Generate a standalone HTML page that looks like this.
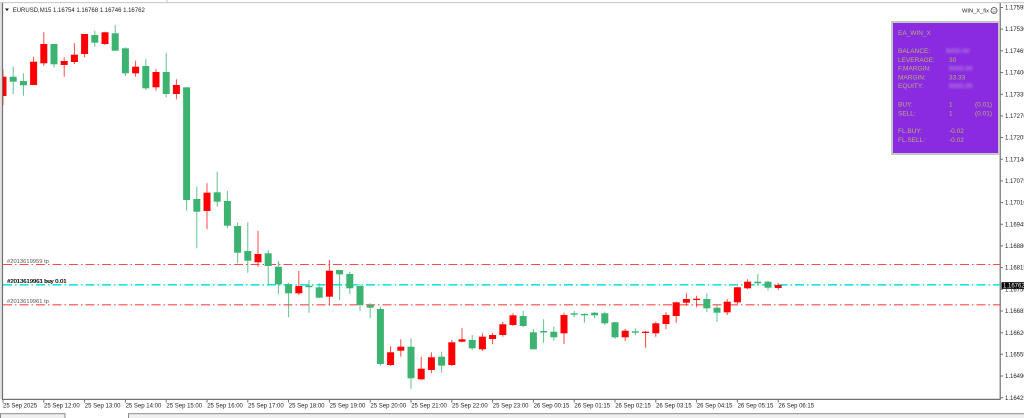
<!DOCTYPE html>
<html>
<head>
<meta charset="utf-8">
<style>
html,body{margin:0;padding:0;background:#fff;}
svg{display:block;}
text{font-family:"Liberation Sans",Arial,sans-serif;}
</style>
</head>
<body>
<svg width="1024" height="418" viewBox="0 0 1024 418" xmlns="http://www.w3.org/2000/svg">
<defs>
<clipPath id="ca"><rect x="3" y="3" width="997" height="396"/></clipPath>
<filter id="bl" x="-20%" y="-50%" width="140%" height="200%"><feGaussianBlur stdDeviation="1.1"/></filter>
</defs>
<rect x="0" y="0" width="1024" height="418" fill="#fff"/>
<!-- frame -->
<rect x="0" y="3" width="2" height="396" fill="#e2e2e2"/>
<line x1="0" y1="2.6" x2="1024" y2="2.6" stroke="#c4c4c4" stroke-width="1"/>
<line x1="167" y1="0" x2="167" y2="2.6" stroke="#c4c4c4" stroke-width="1"/>
<line x1="2.5" y1="3" x2="2.5" y2="400" stroke="#707070" stroke-width="1.2"/>
<line x1="2" y1="399.4" x2="1000.5" y2="399.4" stroke="#707070" stroke-width="1.2"/>
<line x1="1000.2" y1="3" x2="1000.2" y2="400" stroke="#707070" stroke-width="1.2"/>

<!-- title -->
<polygon points="5,8.5 9,8.5 7,11" fill="#111"/>
<text x="12.7" y="12.2" font-size="6" fill="#222">EURUSD,M15  1.16754 1.16768 1.16746 1.16762</text>

<!-- WIN_X_fix -->
<text x="962" y="12.5" font-size="5.6" fill="#222" textLength="27" lengthAdjust="spacingAndGlyphs">WIN_X_fix</text>
<circle cx="994" cy="10.5" r="3" fill="none" stroke="#444" stroke-width="0.8"/>
<circle cx="993" cy="9.8" r="0.45" fill="#444"/>
<circle cx="995" cy="9.8" r="0.45" fill="#444"/>
<path d="M992.6 11.4 Q994 12.8 995.4 11.4" fill="none" stroke="#444" stroke-width="0.6"/>

<!-- order lines -->
<g clip-path="url(#ca)">
<line x1="3" y1="264.5" x2="1000" y2="264.5" stroke="#ff4a4a" stroke-width="1.1" stroke-dasharray="9 3 1.5 3"/>
<line x1="3" y1="284.8" x2="1000" y2="284.8" stroke="#1de3e3" stroke-width="1.6" stroke-dasharray="9 3 1.5 3"/>
<line x1="3" y1="304.8" x2="1000" y2="304.8" stroke="#ff4a4a" stroke-width="1.1" stroke-dasharray="9 3 1.5 3"/>
</g>
<text x="7" y="262.8" font-size="5.8" fill="#555">#2013619959 tp</text>
<text x="7" y="283.0" font-size="5.8" fill="#111">#2013619963 buy 0.01</text>
<text x="7.4" y="283.0" font-size="5.8" fill="#111">#2013619961 buy 0.01</text>
<text x="7" y="303.0" font-size="5.8" fill="#555">#2013619961 tp</text>

<!-- candles -->
<g clip-path="url(#ca)">
<path fill="none" stroke="#3cb371" stroke-opacity="0.8" stroke-width="1" d="M13.2 66.7V94 M23.4 73.3V95.7 M54 44V67.3 M94.8 30.7V46.7 M115.2 25V50.7 M125.4 47.3V76 M145.8 59.3V90 M166.2 52.7V97.3 M186.6 87.3V210.7 M196.8 186.7V248.3 M217.2 171.7V206.7 M227.4 191V228.3 M237.6 222.7V263.3 M247.8 222.3V272.7 M268.2 250V285 M278.4 261V294.3 M288.6 282.7V317.3 M309 280V312.7 M319.2 283.3V298.3 M339.6 270V300 M349.8 271.7V294 M360 284.3V310.7 M370.2 303.3V318.3 M380.4 306.7V366 M411 338.3V389 M441.6 351.7V372.7 M472.2 335V350 M523.2 310.7V327.3 M533.4 329V349.3 M543.6 319.3V342.7 M553.8 326.7V340.7 M574.2 311V317.3 M584.4 313.3V322.7 M594.6 312V318.3 M604.8 311.7V325 M615 321.7V339 M635.4 328.3V335 M706.8 293.3V312.3 M717 305V322.3 M757.8 274V285 M768 281V290.7"/>
<path fill="none" stroke="#ff1a1a" stroke-opacity="0.8" stroke-width="1" d="M3 69.3V105 M33.6 56.7V85 M43.8 32.3V65.7 M64.2 57.3V76.7 M74.4 43.3V64 M84.6 34V57.3 M105 31.7V45 M135.6 60.7V76.7 M156 69V90.7 M176.4 79.3V99.3 M207 183.3V229.3 M258 230.7V266.7 M298.8 270.7V295 M329.4 260V305 M390.6 346V366 M400.8 339.3V356.7 M421.2 356.7V380 M431.4 352.3V373.3 M451.8 340V366 M462 328.3V342.3 M482.4 333.3V351 M492.6 332.7V344.3 M502.8 321.7V336.7 M513 313.3V326 M564 312.7V344 M625.2 329V341 M645.6 330.7V347.7 M655.8 321.7V336.7 M666 312.3V329.3 M676.2 301.7V322.7 M686.4 293.3V305.7 M696.6 295.7V307.3 M727.2 299V315 M737.4 286.7V304 M747.6 279.3V289.3 M778.2 283V290"/>
<g fill="#3cb371">
<rect x="9.7" y="76.7" width="7" height="5"/>
<rect x="19.9" y="81" width="7" height="4.3"/>
<rect x="50.5" y="44" width="7" height="20.3"/>
<rect x="91.3" y="35" width="7" height="7.7"/>
<rect x="111.7" y="33.3" width="7" height="17.4"/>
<rect x="121.9" y="48.3" width="7" height="25"/>
<rect x="142.3" y="66" width="7" height="22.3"/>
<rect x="162.7" y="72" width="7" height="22"/>
<rect x="183.1" y="87.3" width="7" height="112.7"/>
<rect x="193.3" y="199" width="7" height="12.7"/>
<rect x="213.7" y="192.3" width="7" height="9.4"/>
<rect x="223.9" y="201" width="7" height="24.7"/>
<rect x="234.1" y="226" width="7" height="26.7"/>
<rect x="244.3" y="251" width="7" height="9.7"/>
<rect x="264.7" y="253.3" width="7" height="12.7"/>
<rect x="274.9" y="266.7" width="7" height="17.6"/>
<rect x="285.1" y="284.3" width="7" height="9"/>
<rect x="305.5" y="285.7" width="7" height="1.5"/>
<rect x="315.7" y="287.3" width="7" height="10.4"/>
<rect x="336.1" y="270" width="7" height="4.3"/>
<rect x="346.3" y="274" width="7" height="14.3"/>
<rect x="356.5" y="286" width="7" height="19"/>
<rect x="366.7" y="305" width="7" height="2.7"/>
<rect x="376.9" y="309" width="7" height="55"/>
<rect x="407.5" y="346.7" width="7" height="31.6"/>
<rect x="438.1" y="356.7" width="7" height="9"/>
<rect x="468.7" y="340" width="7" height="8.3"/>
<rect x="519.7" y="316" width="7" height="10"/>
<rect x="529.9" y="332.3" width="7" height="17"/>
<rect x="540.1" y="331" width="7" height="1.5"/>
<rect x="550.3" y="331.7" width="7" height="5.6"/>
<rect x="570.7" y="313.3" width="7" height="1.4"/>
<rect x="580.9" y="314" width="7" height="1.3"/>
<rect x="591.1" y="312.7" width="7" height="2.6"/>
<rect x="601.3" y="313.3" width="7" height="10"/>
<rect x="611.5" y="322.3" width="7" height="15"/>
<rect x="631.9" y="331.3" width="7" height="1.4"/>
<rect x="703.3" y="299" width="7" height="9.3"/>
<rect x="713.5" y="307.7" width="7" height="5"/>
<rect x="754.3" y="281.7" width="7" height="1.6"/>
<rect x="764.5" y="281.7" width="7" height="6"/>
</g>
<g fill="#ff0000">
<rect x="-0.5" y="76.7" width="7" height="19.3"/>
<rect x="30.1" y="61.7" width="7" height="23.3"/>
<rect x="40.3" y="44" width="7" height="19.3"/>
<rect x="60.7" y="61" width="7" height="4"/>
<rect x="70.9" y="54.7" width="7" height="7.3"/>
<rect x="81.1" y="34" width="7" height="20"/>
<rect x="101.5" y="32.3" width="7" height="11.7"/>
<rect x="132.1" y="66.7" width="7" height="6.6"/>
<rect x="152.5" y="72" width="7" height="15.3"/>
<rect x="172.9" y="85" width="7" height="9"/>
<rect x="203.5" y="192.7" width="7" height="18.3"/>
<rect x="254.5" y="254" width="7" height="8.3"/>
<rect x="295.3" y="286" width="7" height="7.3"/>
<rect x="325.9" y="270.7" width="7" height="26"/>
<rect x="387.1" y="352.3" width="7" height="12.7"/>
<rect x="397.3" y="346.7" width="7" height="4"/>
<rect x="417.7" y="368.7" width="7" height="10.6"/>
<rect x="427.9" y="357.3" width="7" height="12.7"/>
<rect x="448.3" y="342.3" width="7" height="22.7"/>
<rect x="458.5" y="339.3" width="7" height="2.4"/>
<rect x="478.9" y="336.7" width="7" height="12.6"/>
<rect x="489.1" y="335" width="7" height="4"/>
<rect x="499.3" y="324.3" width="7" height="10.7"/>
<rect x="509.5" y="315.3" width="7" height="9.7"/>
<rect x="560.5" y="315" width="7" height="18.3"/>
<rect x="621.7" y="330.7" width="7" height="6.6"/>
<rect x="642.1" y="331.7" width="7" height="1.3"/>
<rect x="652.3" y="323.3" width="7" height="10"/>
<rect x="662.5" y="315" width="7" height="9"/>
<rect x="672.7" y="302.3" width="7" height="13.7"/>
<rect x="682.9" y="299" width="7" height="3.7"/>
<rect x="693.1" y="298.7" width="7" height="1.3"/>
<rect x="723.7" y="301.7" width="7" height="10.6"/>
<rect x="733.9" y="287.3" width="7" height="15"/>
<rect x="744.1" y="281.7" width="7" height="6.6"/>
<rect x="774.7" y="285" width="7" height="3"/>
</g>
</g>

<!-- EA panel -->
<rect x="892" y="22" width="107" height="132" fill="#8a2be2" stroke="#c6c6c6" stroke-width="2"/>
<g font-size="6.5" fill="#b5b36c">
<text x="898" y="35">EA_WIN_X</text>
<text x="898" y="53">BALANCE:</text>
<text x="898" y="61.8">LEVERAGE:</text>
<text x="898" y="70.6">F.MARGIN:</text>
<text x="898" y="79.4">MARGIN:</text>
<text x="898" y="88.2">EQUITY:</text>
<text x="898" y="106.6">BUY:</text>
<text x="898" y="115.4">SELL:</text>
<text x="898" y="133">FL.BUY:</text>
<text x="898" y="141.8">FL.SELL:</text>
<text x="949" y="61.8">30</text>
<text x="949" y="79.4">33.33</text>
<text x="949" y="106.6">1</text>
<text x="949" y="115.4">1</text>
<text x="975" y="106.6">(0.01)</text>
<text x="975" y="115.4">(0.01)</text>
<text x="949" y="133">-0.02</text>
<text x="949" y="141.8">-0.02</text>
<g filter="url(#bl)" fill="#c4a0d8">
<text x="946" y="53">5000.00</text>
<text x="949" y="70.6">5000.00</text>
<text x="949" y="88.2">5000.00</text>
</g>
</g>

<!-- price axis -->
<g stroke="#707070" stroke-width="1">
<path d="M1000 397.7H1003 M1000 376H1003 M1000 354.3H1003 M1000 332.7H1003 M1000 311H1003 M1000 289.3H1003 M1000 267.6H1003 M1000 245.9H1003 M1000 224.3H1003 M1000 202.6H1003 M1000 180.9H1003 M1000 159.2H1003 M1000 137.5H1003 M1000 115.9H1003 M1000 94.2H1003 M1000 72.5H1003 M1000 50.8H1003 M1000 29.1H1003 M1000 7.5H1003"/>
</g>
<g font-size="6" fill="#222">
<text x="1005" y="399.8">1.16425</text>
<text x="1005" y="378.1">1.16490</text>
<text x="1005" y="356.4">1.16555</text>
<text x="1005" y="334.8">1.16620</text>
<text x="1005" y="313.1">1.16685</text>
<text x="1005" y="291.4">1.16750</text>
<text x="1005" y="269.7">1.16815</text>
<text x="1005" y="248">1.16880</text>
<text x="1005" y="226.4">1.16945</text>
<text x="1005" y="204.7">1.17010</text>
<text x="1005" y="183">1.17075</text>
<text x="1005" y="161.3">1.17140</text>
<text x="1005" y="139.6">1.17205</text>
<text x="1005" y="118">1.17270</text>
<text x="1005" y="96.3">1.17335</text>
<text x="1005" y="74.6">1.17400</text>
<text x="1005" y="52.9">1.17465</text>
<text x="1005" y="31.2">1.17530</text>
<text x="1005" y="9.6">1.17595</text>
</g>
<rect x="1001.5" y="282.2" width="22.5" height="6.6" fill="#000"/>
<text x="1003" y="287.6" font-size="6" fill="#fff">1.16762</text>

<!-- time axis -->
<path stroke="#707070" stroke-width="1" d="M3 399V402.5 M43.8 399V402.5 M84.6 399V402.5 M125.4 399V402.5 M166.2 399V402.5 M207 399V402.5 M247.8 399V402.5 M288.6 399V402.5 M329.4 399V402.5 M370.2 399V402.5 M411 399V402.5 M451.8 399V402.5 M492.6 399V402.5 M533.4 399V402.5 M574.2 399V402.5 M615 399V402.5 M655.8 399V402.5 M696.6 399V402.5 M737.4 399V402.5 M778.2 399V402.5"/>
<g font-size="6" fill="#222">
<text x="3" y="407.3">25 Sep 2025</text>
<text x="44" y="407.3">25 Sep 12:00</text>
<text x="84.8" y="407.3">25 Sep 13:00</text>
<text x="125.6" y="407.3">25 Sep 14:00</text>
<text x="166.4" y="407.3">25 Sep 15:00</text>
<text x="207.2" y="407.3">25 Sep 16:00</text>
<text x="248" y="407.3">25 Sep 17:00</text>
<text x="288.8" y="407.3">25 Sep 18:00</text>
<text x="329.6" y="407.3">25 Sep 19:00</text>
<text x="370.4" y="407.3">25 Sep 20:00</text>
<text x="411.2" y="407.3">25 Sep 21:00</text>
<text x="452" y="407.3">25 Sep 22:00</text>
<text x="492.8" y="407.3">25 Sep 23:00</text>
<text x="533.6" y="407.3">26 Sep 00:15</text>
<text x="574.4" y="407.3">26 Sep 01:15</text>
<text x="615.2" y="407.3">26 Sep 02:15</text>
<text x="656" y="407.3">26 Sep 03:15</text>
<text x="696.8" y="407.3">26 Sep 04:15</text>
<text x="737.6" y="407.3">26 Sep 05:15</text>
<text x="778.4" y="407.3">26 Sep 06:15</text>
</g>

<!-- bottom tabs -->
<rect x="0.5" y="413.7" width="64.5" height="6" fill="#f0f0f0" stroke="#8a8a8a" stroke-width="1"/>
<rect x="128.5" y="413.7" width="897" height="6" fill="#f0f0f0" stroke="#8a8a8a" stroke-width="1"/>
</svg>
</body>
</html>
